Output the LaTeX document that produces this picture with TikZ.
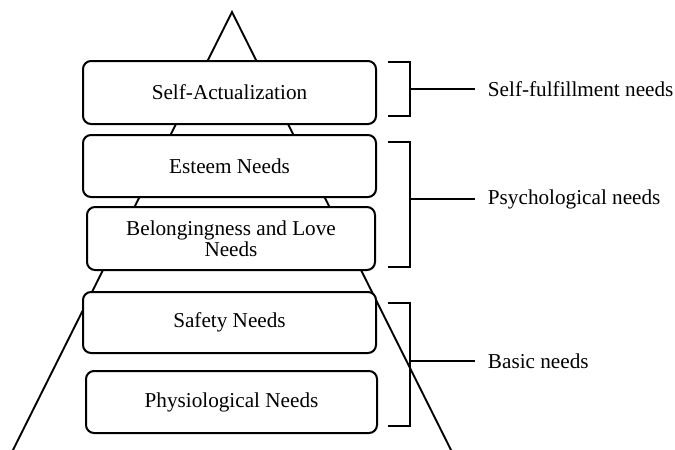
\documentclass[tikz,border=0pt]{standalone}
\usepackage{fontspec}
\setmainfont{Liberation Serif}
\begin{document}
\begin{tikzpicture}[x=1pt,y=-1pt,line width=1.9pt,
	level/.style={draw,fill=white,rounded corners=8pt,line width=2pt,
		align=center,inner sep=0pt,font=\fontsize{21.2}{20.5}\selectfont},
	group/.style={anchor=west,inner xsep=12pt,inner ysep=0pt,
		font=\fontsize{21.2}{20.5}\selectfont}]
	\useasboundingbox (0,0) rectangle (675,450);
	\coordinate (top) at (232,12);
	\coordinate (bl) at (13,450);
	\coordinate (br) at (451,450);
	\draw (bl)--(top)--(br);
	\foreach \x/\y/\w/\h/\texn/\nm in {229.5/92.5/293/63/Self-Actualization/sa,
		229.5/166/293/62/Esteem Needs/es,
		231/238.5/288/63/{Belongingness and Love\\Needs}/bl,
		229.5/322.5/293/61/Safety Needs/sf,
		231.5/402/291/62/Physiological Needs/ph}
	\path (\x,\y) node[level,minimum width=\w,minimum height=\h](\nm){\texn};
	\foreach \a/\b/\m/\texn/\nm in {62/116/89/Self-fulfillment needs/sfn,
		142/267/199/Psychological needs/psy,
		303/426/361/Basic needs/bas}{
		\draw (388,\a) -| (410,\b) -- (388,\b);
		\coordinate (\nm-b) at (410,\m);
		\path (475,\m) node[group](\nm){\texn};
		\draw (\nm-b)--(\nm.west);
	}
\end{tikzpicture}
\end{document}
